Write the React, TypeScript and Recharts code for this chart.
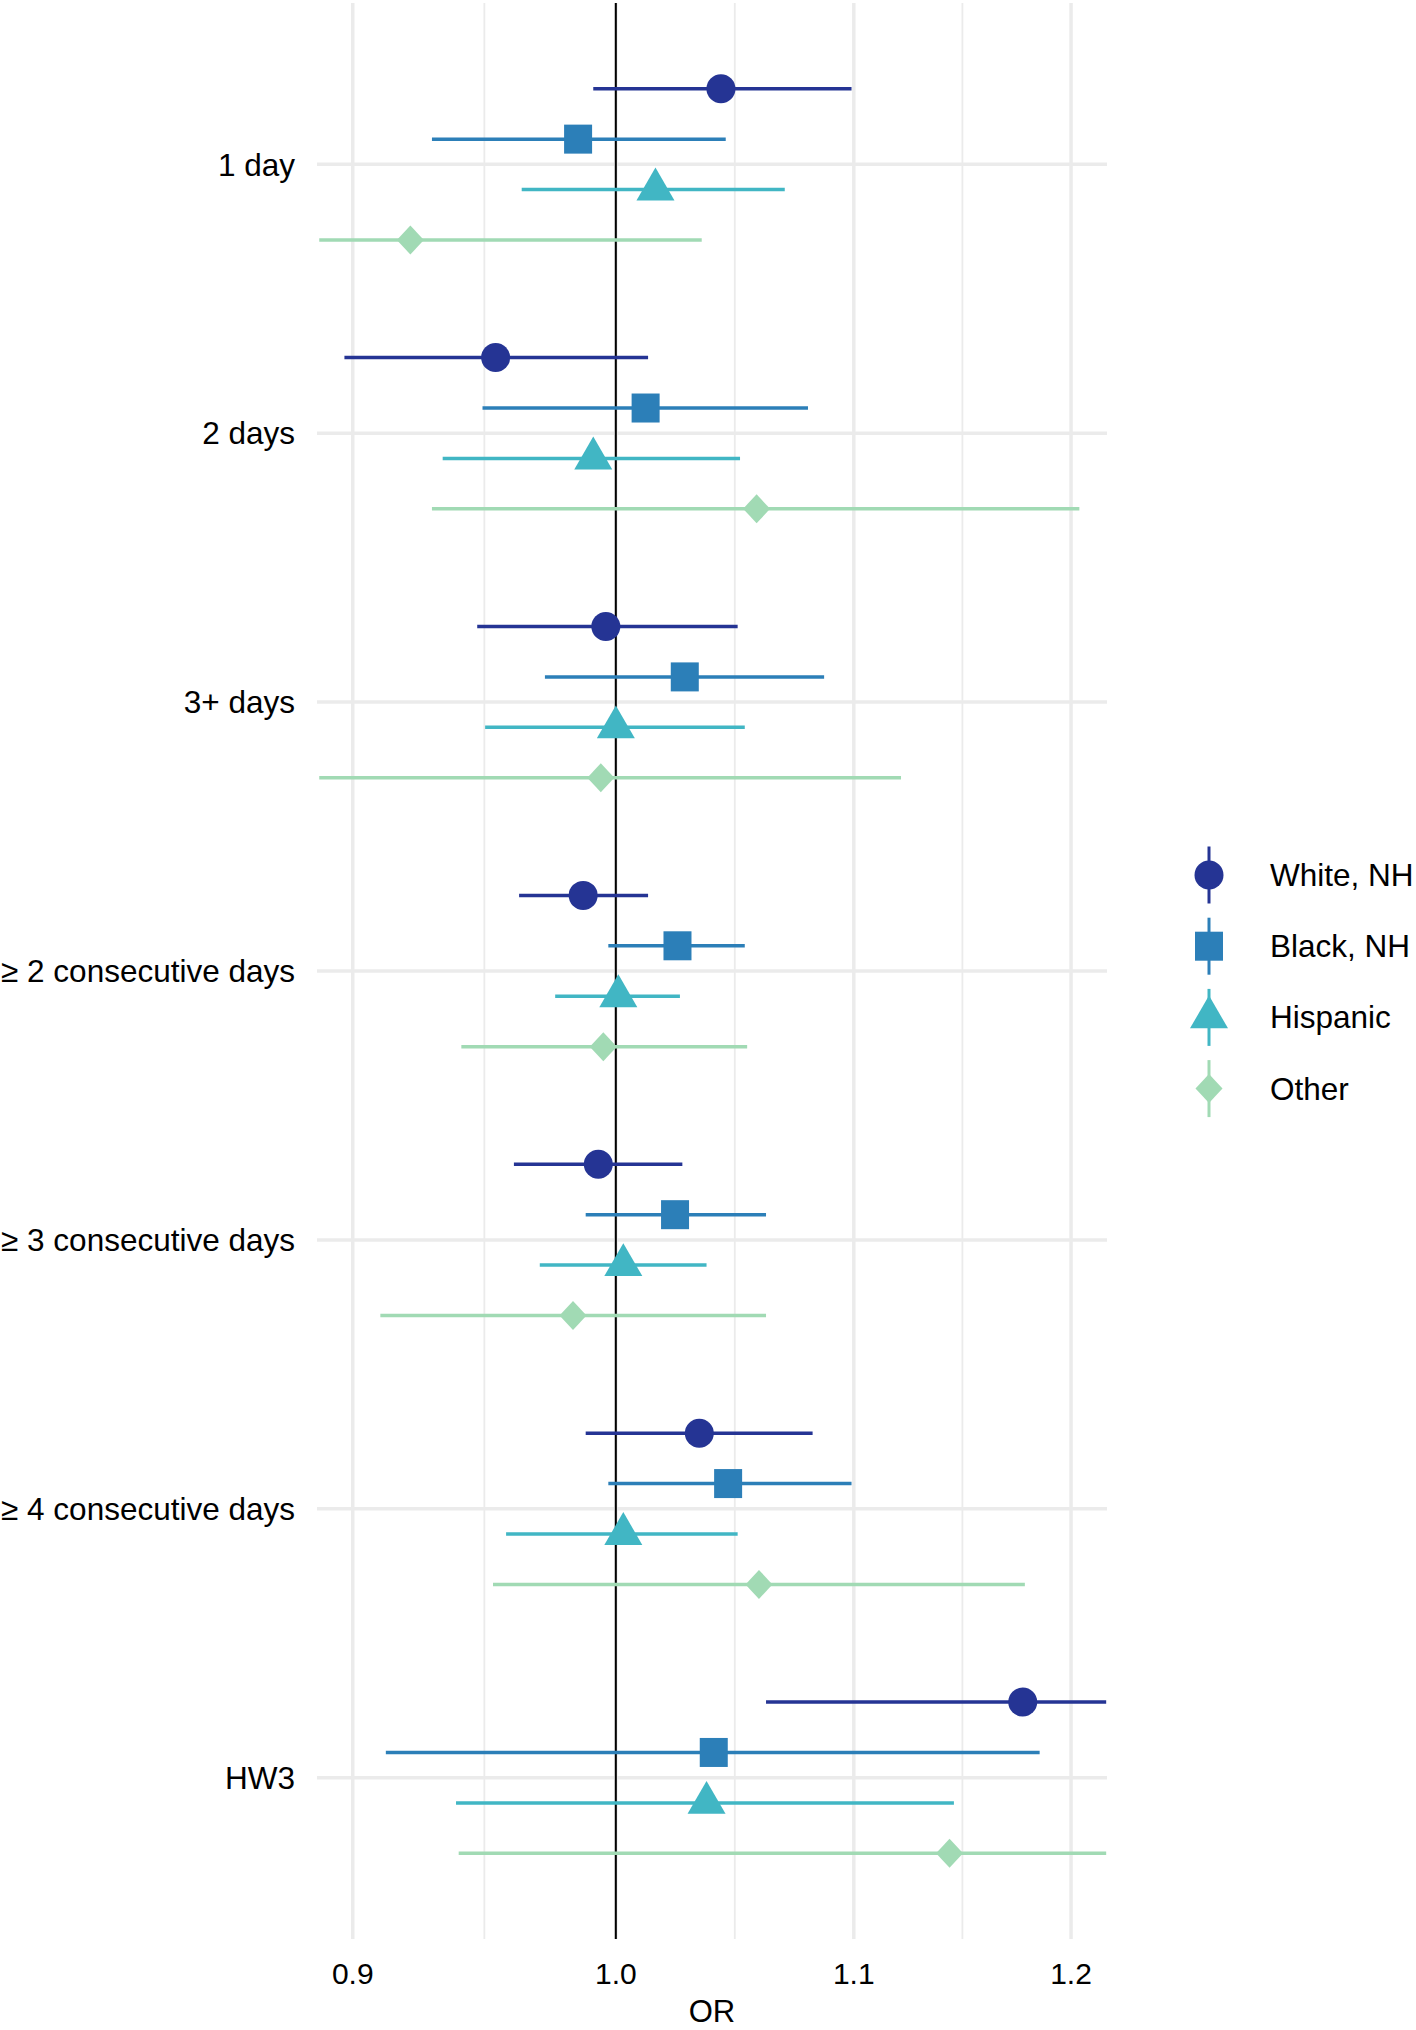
import React from "react"
import {
  ScatterChart,
  Scatter,
  XAxis,
  YAxis,
  ReferenceLine,
  ErrorBar,
  Legend,
} from "recharts"

// heatwave definitions, top to bottom
const categories = [
  "1 day",
  "2 days",
  "3+ days",
  "≥ 2 consecutive days",
  "≥ 3 consecutive days",
  "≥ 4 consecutive days",
  "HW3",
]

const seriesNames = ["White, NH", "Black, NH", "Hispanic", "Other"]
const seriesColors = ["#253494", "#2c7fb8", "#41b6c4", "#a1dab4"]
const seriesShapes = ["circle", "square", "triangle", "diamond"]

// odds ratios with 95% CI (bars running off the panel end at its edge)
const whiteOR = [1.043, 0.953, 0.996, 0.987, 0.993, 1.034, 1.177]
const whiteLo = [0.991, 0.897, 0.946, 0.962, 0.96, 0.988, 1.062]
const whiteHi = [1.099, 1.013, 1.05, 1.013, 1.027, 1.082, 1.217]

const blackOR = [0.985, 1.012, 1.028, 1.025, 1.024, 1.046, 1.04]
const blackLo = [0.929, 0.948, 0.972, 0.997, 0.988, 0.997, 0.912]
const blackHi = [1.045, 1.08, 1.087, 1.053, 1.062, 1.099, 1.185]

const hispOR = [1.016, 0.991, 1.0, 1.001, 1.003, 1.003, 1.037]
const hispLo = [0.963, 0.933, 0.949, 0.976, 0.97, 0.957, 0.938]
const hispHi = [1.07, 1.051, 1.053, 1.026, 1.037, 1.05, 1.145]

const otherOR = [0.921, 1.058, 0.994, 0.995, 0.983, 1.059, 1.143]
const otherLo = [0.888, 0.929, 0.888, 0.94, 0.91, 0.952, 0.939]
const otherHi = [1.035, 1.204, 1.121, 1.054, 1.062, 1.178, 1.217]

const xTicks = [0.9, 1.0, 1.1, 1.2]
const xMinor = [0.9487, 1.0488, 1.1489]
const xDomain = [0.8872, 1.2174]

const dodgeWidth = 0.75
const gridColor = "#EBEBEB"

const seriesValues = [
  [whiteOR, whiteLo, whiteHi],
  [blackOR, blackLo, blackHi],
  [hispOR, hispLo, hispHi],
  [otherOR, otherLo, otherHi],
]

function buildSeries(s: number) {
  const [or, lo, hi] = seriesValues[s]
  const step = dodgeWidth / seriesNames.length
  const shift = -dodgeWidth / 2 + step / 2 + s * step
  return categories.map((c, i) => ({
    name: c,
    x: or[i],
    y: i + shift,
    err: [or[i] - lo[i], hi[i] - or[i]],
  }))
}

function Marker({ kind, cx, cy, fill }: { kind: string; cx: number; cy: number; fill: string }) {
  if (kind === "circle") return <circle cx={cx} cy={cy} r={14.5} fill={fill} />
  if (kind === "square") return <rect x={cx - 14} y={cy - 14.5} width={28} height={29} fill={fill} />
  if (kind === "triangle") {
    const a = 38
    const h = (a * Math.sqrt(3)) / 2
    return (
      <polygon
        points={`${cx},${cy - (2 * h) / 3} ${cx + a / 2},${cy + h / 3} ${cx - a / 2},${cy + h / 3}`}
        fill={fill}
      />
    )
  }
  return (
    <polygon
      points={`${cx},${cy - 14.5} ${cx + 13.5},${cy} ${cx},${cy + 14.5} ${cx - 13.5},${cy}`}
      fill={fill}
    />
  )
}

const renderLegend = () => (
  <svg width={246} height={300}>
    {seriesNames.map((name, i) => {
      const cy = 45 + i * 71.2
      return (
        <g key={name}>
          <line x1={39} x2={39} y1={cy - 28.5} y2={cy + 28.5} stroke={seriesColors[i]} strokeWidth={3} />
          <Marker kind={seriesShapes[i]} cx={39} cy={cy} fill={seriesColors[i]} />
          <text x={100} y={cy} dominantBaseline="central" fontSize={31.5} fill="#000">
            {name}
          </text>
        </g>
      )
    })}
  </svg>
)

export default function App() {
  return (
    <div
      style={{
        position: "absolute",
        left: 0,
        top: 0,
        width: 1416,
        height: 2030,
        background: "#fff",
        fontFamily: "'Liberation Sans', Arial, sans-serif",
      }}
    >
      <ScatterChart width={1416} height={2030} margin={{ top: 3, right: 309, bottom: 0, left: 0 }}>
        {xTicks.map((v) => (
          <ReferenceLine key={`maj-${v}`} x={v} stroke={gridColor} strokeWidth={3.5} />
        ))}
        {xMinor.map((v) => (
          <ReferenceLine key={`min-${v}`} x={v} stroke={gridColor} strokeWidth={1.8} />
        ))}
        {categories.map((c, i) => (
          <ReferenceLine key={`h-${c}`} y={i} stroke={gridColor} strokeWidth={3.5} />
        ))}
        <ReferenceLine x={1} stroke="#000" strokeWidth={2} />
        <XAxis
          type="number"
          dataKey="x"
          scale="log"
          domain={xDomain}
          allowDataOverflow
          ticks={xTicks}
          interval={0}
          tickFormatter={(v: number) => v.toFixed(1)}
          axisLine={false}
          tickLine={false}
          tickSize={0}
          tickMargin={24}
          height={91}
          tick={{ fontSize: 30, fill: "#000" }}
          label={{ value: "OR", position: "insideBottom", offset: 8, fontSize: 31, fill: "#000" }}
        />
        <YAxis
          type="number"
          dataKey="y"
          domain={[-0.6, categories.length - 0.4]}
          reversed
          allowDataOverflow
          ticks={categories.map((_, i) => i)}
          interval={0}
          tickFormatter={(v: number) => categories[v] ?? ""}
          axisLine={false}
          tickLine={false}
          tickSize={0}
          tickMargin={22}
          width={317}
          tick={{ fontSize: 31.5, fill: "#000" }}
        />
        <Legend
          layout="vertical"
          align="center"
          verticalAlign="middle"
          content={renderLegend}
          wrapperStyle={{ left: 1170, top: 830, width: 246, height: 300 }}
        />
        {seriesNames.map((name, s) => (
          <Scatter
            key={name}
            name={name}
            data={buildSeries(s)}
            fill={seriesColors[s]}
            isAnimationActive={false}
            shape={(p: any) => <Marker kind={seriesShapes[s]} cx={p.cx} cy={p.cy} fill={seriesColors[s]} />}
          >
            <ErrorBar
              dataKey="err"
              direction="x"
              width={0}
              stroke={seriesColors[s]}
              strokeWidth={3.5}
              isAnimationActive={false}
            />
          </Scatter>
        ))}
      </ScatterChart>
    </div>
  )
}
